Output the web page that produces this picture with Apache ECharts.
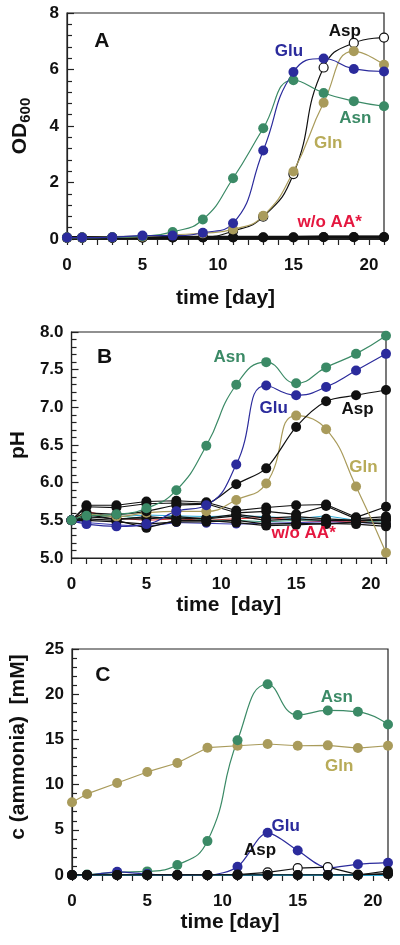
<!DOCTYPE html>
<html><head><meta charset="utf-8">
<script src="https://cdn.jsdelivr.net/npm/echarts@6/dist/echarts.min.js"></script>
<style>html,body{margin:0;padding:0;background:#fff}#c{width:400px;height:945px}</style>
</head><body><div id="c"></div>
<script>
// ---- data ----
const days = [0, 1, 3, 5, 7, 9, 11, 13, 15, 17, 19, 21];

// Panel A: OD600
const odAsn = [0.05, 0.05, 0.06, 0.10, 0.25, 0.69, 2.15, 3.92, 5.62, 5.17, 4.88, 4.70];
const odGlu = [0.05, 0.05, 0.06, 0.12, 0.12, 0.22, 0.56, 3.13, 5.91, 6.39, 6.02, 5.93];
const odAsp = [0.05, 0.05, 0.05, 0.05, 0.06, 0.07, 0.28, 0.79, 2.30, 6.07, 6.94, 7.13];
const odGln = [0.05, 0.05, 0.06, 0.08, 0.15, 0.20, 0.34, 0.82, 2.39, 4.82, 6.65, 6.17];
const odWo1 = [0.05, 0.05, 0.05, 0.06, 0.06, 0.06, 0.06, 0.06, 0.06, 0.07, 0.07, 0.07];
const odWo2 = [0.04, 0.04, 0.04, 0.05, 0.05, 0.05, 0.05, 0.05, 0.05, 0.06, 0.06, 0.06];

// Panel B: pH
const phAsn = [5.50, 5.56, 5.58, 5.66, 5.90, 6.49, 7.30, 7.60, 7.32, 7.53, 7.71, 7.95];
const phGlu = [5.50, 5.45, 5.42, 5.45, 5.62, 5.70, 6.24, 7.29, 7.16, 7.27, 7.49, 7.71];
const phAsp = [5.50, 5.60, 5.58, 5.62, 5.70, 5.72, 5.98, 6.19, 6.74, 7.08, 7.16, 7.23];
const phGln = [5.50, 5.58, 5.55, 5.60, 5.62, 5.62, 5.77, 5.99, 6.89, 6.71, 5.95, 5.07];
const phWo1 = [5.50, 5.70, 5.70, 5.75, 5.76, 5.74, 5.63, 5.67, 5.70, 5.71, 5.54, 5.68];
const phWo2 = [5.50, 5.68, 5.67, 5.72, 5.73, 5.72, 5.60, 5.62, 5.58, 5.69, 5.52, 5.55];
const phWo3 = [5.50, 5.55, 5.52, 5.52, 5.55, 5.52, 5.56, 5.50, 5.52, 5.50, 5.50, 5.52];
const phWo4 = [5.50, 5.50, 5.48, 5.45, 5.48, 5.48, 5.50, 5.45, 5.46, 5.45, 5.48, 5.45];
const phWo5 = [5.50, 5.52, 5.50, 5.40, 5.50, 5.50, 5.47, 5.43, 5.44, 5.46, 5.45, 5.42];
const phWo6 = [5.50, 5.58, 5.51, 5.55, 5.52, 5.53, 5.58, 5.53, 5.55, 5.52, 5.50, 5.50];
const phCyan = [5.50, 5.57, 5.55, 5.57, 5.56, 5.55, 5.56, 5.55, 5.52, 5.56, 5.50, 5.49];
const phRed = [5.50, 5.62, 5.53, 5.50, 5.52, 5.50, 5.52, 5.54, 5.50, 5.48, 5.49, 5.47];
const phBlue = [5.50, 5.47, 5.44, 5.42, 5.47, 5.46, 5.45, 5.46, 5.47, 5.48, 5.47, 5.46];
const phTeal = [5.50, 5.53, 5.56, 5.52, 5.55, 5.50, 5.50, 5.48, 5.50, 5.50, 5.50, 5.47];

// Panel C: ammonia (mM)
const nhAsn = [0, 0.05, 0.30, 0.40, 1.10, 3.75, 14.9, 21.1, 17.7, 18.2, 18.05, 16.65];
const nhGln = [8.05, 8.97, 10.18, 11.40, 12.39, 14.08, 14.30, 14.49, 14.30, 14.34, 14.04, 14.30];
const nhGlu = [0, 0, 0.35, 0.10, 0, 0, 0.92, 4.67, 2.72, 0.80, 1.18, 1.36];
const nhAsp = [0, 0, 0, 0, 0, 0, 0.05, 0.30, 0.75, 0.88, 0.05, 0.15];
const nhWo1 = [0, 0, 0, 0, 0, 0, 0, 0, 0, 0, 0, 0.45];
const nhWo2 = [0, 0, 0, 0, 0, 0, 0, 0, 0, 0, 0, 0.10];
const nhCyan = [0, 0, 0, 0, 0, 0, 0, 0, 0, 0, 0, 0];

// annotations: [panel, day, value, text, colorKey, size]
const notes = [
  [0, 2.3, 7.0, 'A', 'k', 21], [0, 18.4, 7.34, 'Asp', 'k', 17], [0, 14.7, 6.63, 'Glu', 'b', 17],
  [0, 19.1, 4.26, 'Asn', 'g', 17], [0, 17.3, 3.37, 'Gln', 't', 17], [0, 17.4, 0.6, 'w/o AA*', 'r', 17],
  [1, 2.2, 7.67, 'B', 'k', 21], [1, 10.55, 7.66, 'Asn', 'g', 17], [1, 13.5, 6.99, 'Glu', 'b', 17],
  [1, 19.1, 6.97, 'Asp', 'k', 17], [1, 19.5, 6.21, 'Gln', 't', 17], [1, 15.5, 5.33, 'w/o AA*', 'r', 17],
  [2, 2.05, 22.1, 'C', 'k', 21], [2, 17.6, 19.7, 'Asn', 'g', 17], [2, 17.75, 12.06, 'Gln', 't', 17],
  [2, 14.2, 5.4, 'Glu', 'b', 17], [2, 12.5, 2.77, 'Asp', 'k', 17]
];

// ---- style ----
const FONT = 'Liberation Sans, Arial, sans-serif';
const C = { g: '#3b8a66', b: '#2b2b9c', t: '#a99b5b', tt: '#b8ab58', k: '#111111', r: '#e5173f',
  cyan: '#2aa9d6', red: '#d9302f', blue: '#3a3ab0', teal: '#3c9a80' };

function pair(d) { return days.map((x, i) => [x, d[i]]); }
function ser(idx, data, color, opts) {
  opts = opts || {};
  return {
    type: 'line', xAxisIndex: idx, yAxisIndex: idx, data: pair(data),
    smooth: opts.smooth === undefined ? true : opts.smooth,
    symbol: opts.symbol === undefined ? 'circle' : opts.symbol,
    symbolSize: opts.size || 10, showSymbol: opts.symbol !== 'none',
    lineStyle: { color: opts.lineColor || color, width: opts.width || 1.2 },
    itemStyle: { color: opts.fill || color, borderColor: color, borderWidth: opts.bw || 0 },
    z: opts.z || 2, animation: false, emphasis: { disabled: true }
  };
}

const grids = [
  { left: 67, top: 13, width: 317, height: 226 },
  { left: 68, top: 332, width: 318, height: 226 },
  { left: 71, top: 649, width: 317, height: 226 }
].map(g => Object.assign(g, { show: true, borderColor: '#222', borderWidth: 1.2, backgroundColor: 'transparent' }));

function xAx(i, gap) {
  return {
    type: 'value', gridIndex: i, min: 0, max: 21, interval: 1,
    name: i === 1 ? 'time  [day]' : 'time [day]', nameLocation: 'middle', nameGap: gap,
    nameTextStyle: { fontFamily: FONT, fontWeight: 'bold', fontSize: 21, color: '#111' },
    axisLine: { lineStyle: { color: '#222', width: 1.2 } },
    axisTick: { inside: false, length: 6, lineStyle: { color: '#222', width: 1.2 } },
    axisLabel: { margin: 18, fontFamily: FONT, fontWeight: 'bold', fontSize: 17, color: '#111',
      formatter: v => (v % 5 === 0 ? String(v) : '') },
    splitLine: { show: false }
  };
}
function yAx(i, min, max, interval, name, gap, fmt, nameStyle) {
  return {
    type: 'value', gridIndex: i, min: min, max: max, interval: interval,
    name: name, nameLocation: 'middle', nameGap: gap, nameRotate: 90,
    nameTextStyle: nameStyle,
    axisLine: { lineStyle: { color: '#222', width: 1.2 } },
    axisTick: { inside: true, length: 7, lineStyle: { color: '#222', width: 1.2 } },
    minorTick: { show: true, splitNumber: 5, length: 5, lineStyle: { color: '#222', width: 1.2 } },
    axisLabel: { margin: 8, fontFamily: FONT, fontWeight: 'bold', fontSize: 17, color: '#111', formatter: fmt },
    splitLine: { show: false }
  };
}
const nameBase = { fontFamily: FONT, fontWeight: 'bold', fontSize: 21, color: '#111' };

const series = [
  // A
  ser(0, odAsp, C.k, { fill: '#fff', bw: 1.2, size: 9 }),
  ser(0, odWo2, C.k, { smooth: false, width: 3 }),
  ser(0, odWo1, C.k, { smooth: false, width: 3 }),
  ser(0, odGln, C.t),
  ser(0, odAsn, C.g),
  ser(0, odGlu, C.b),
  // B
  ser(1, phCyan, C.cyan, { smooth: false, symbol: 'none', width: 1 }),
  ser(1, phRed, C.red, { smooth: false, symbol: 'none', width: 1 }),
  ser(1, phBlue, C.blue, { smooth: false, width: 1, size: 9 }),
  ser(1, phTeal, C.teal, { smooth: false, symbol: 'none', width: 1 }),
  ser(1, phWo1, C.k, { smooth: false }),
  ser(1, phWo2, C.k, { smooth: false }),
  ser(1, phWo3, C.k, { smooth: false }),
  ser(1, phWo4, C.k, { smooth: false }),
  ser(1, phWo5, C.k, { smooth: false }),
  ser(1, phWo6, C.k, { smooth: false }),
  ser(1, phGln, C.t),
  ser(1, phAsp, C.k, { smooth: 0.3 }),
  ser(1, phGlu, C.b),
  ser(1, phAsn, C.g),
  // C
  ser(2, nhCyan, C.cyan, { smooth: false, symbol: 'none', width: 2 }),
  ser(2, nhGln, C.t, { smooth: false }),
  ser(2, nhAsn, C.g),
  ser(2, nhGlu, C.b, { smooth: 0.3 }),
  ser(2, nhAsp, C.k, { fill: '#fff', bw: 1.2, size: 9, smooth: false }),
  ser(2, nhWo2, C.k, { smooth: false }),
  ser(2, nhWo1, C.k, { smooth: false })
];

const chart = echarts.init(document.getElementById('c'), null, { renderer: 'canvas' });
chart.setOption({
  animation: false,
  backgroundColor: '#fff',
  grid: grids,
  xAxis: [xAx(0, 49), xAx(1, 37), xAx(2, 37)],
  yAxis: [
    yAx(0, 0, 8, 2, '{a|OD}{b|600}', 34, v => String(v),
      Object.assign({}, nameBase, { rich: {
        a: { fontFamily: FONT, fontWeight: 'bold', fontSize: 21, color: '#111', lineHeight: 26, verticalAlign: 'middle' },
        b: { fontFamily: FONT, fontWeight: 'bold', fontSize: 15, color: '#111', lineHeight: 26, verticalAlign: 'bottom', padding: [9, 0, 0, 0] } } })),
    yAx(1, 5, 8, 0.5, 'pH', 40, v => v.toFixed(1), nameBase),
    yAx(2, 0, 25, 5, 'c (ammonia)  [mM]', 43, v => String(v),
      Object.assign({}, nameBase, { padding: [0, 0, 0, 30] }))
  ],
  series: series
});

const gfx = notes.map(n => {
  const p = chart.convertToPixel({ gridIndex: n[0] }, [n[1], n[2]]);
  const col = n[4] === 't' ? C.tt : C[n[4]];
  return { type: 'text', x: p[0], y: p[1], z: 50,
    style: { text: n[3], fill: col, font: 'bold ' + n[5] + 'px ' + FONT, align: 'center', verticalAlign: 'middle' } };
});
chart.setOption({ graphic: gfx });
</script></body></html>
